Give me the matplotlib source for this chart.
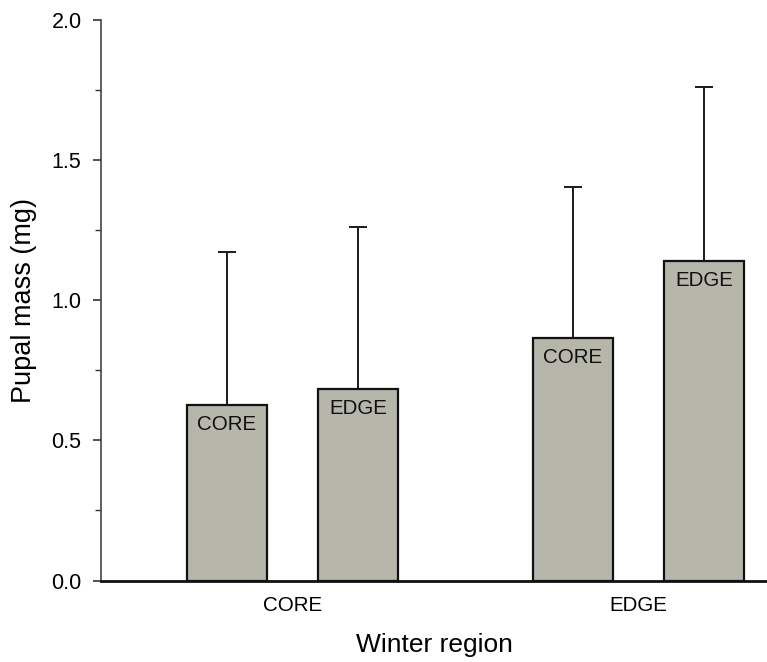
import numpy as np
import matplotlib
matplotlib.use("Agg")
import matplotlib.pyplot as plt
from matplotlib.ticker import MultipleLocator

plt.rcParams['font.family'] = ['Liberation Sans', 'DejaVu Sans']

# Pupal mass by winter region (groups) and origin (bars within each group)
regions = ["CORE", "EDGE"]
origins = ["CORE", "EDGE"]
mean_mass = [[0.627, 0.681],   # winter region CORE
             [0.863, 1.138]]   # winter region EDGE
err_up = [[0.543, 0.578],
          [0.540, 0.622]]

bar_color = '#b6b6aa'
offset = 0.19
width = 0.23

fig = plt.figure(figsize=(7.67, 6.62), dpi=100)
ax = fig.add_axes([0.1317, 0.1231, 0.8683, 0.8474])

x = np.arange(len(regions))
for j, origin in enumerate(origins):
    xs = x + (j - 0.5) * 2 * offset
    vals = [mean_mass[i][j] for i in range(len(regions))]
    errs = [err_up[i][j] for i in range(len(regions))]
    ax.bar(xs, vals, width=width, color=bar_color, edgecolor='#111111',
           linewidth=1.6, zorder=2)
    ax.errorbar(xs, vals, yerr=[np.zeros(len(vals)), errs], fmt='none',
                ecolor='#1a1a1a', elinewidth=1.4, capsize=6.5, capthick=1.4,
                zorder=1)
    for xi, v in zip(xs, vals):
        ax.annotate(origin, xy=(xi, v), xytext=(0, -14), textcoords='offset points',
                    ha='center', va='center', fontsize=14.8, color='#111111', zorder=3)

ax.set_xlim(-0.5535, 1.3714)
ax.set_ylim(0, 2.0)
ax.set_xticks(x)
ax.set_xticklabels(regions, fontsize=14.8)
ax.tick_params(axis='x', length=0, pad=11)
ax.yaxis.set_major_locator(MultipleLocator(0.5))
ax.yaxis.set_minor_locator(MultipleLocator(0.25))
ax.set_yticks(np.arange(0, 2.01, 0.5))
ax.set_yticklabels(["%.1f" % t for t in np.arange(0, 2.01, 0.5)], fontsize=15.5)
ax.tick_params(axis='y', which='major', length=6, width=1.2, pad=8, color='#333333')
ax.tick_params(axis='y', which='minor', length=4, width=1.0, color='#333333')

ax.spines['top'].set_visible(False)
ax.spines['right'].set_visible(False)
ax.spines['left'].set_color('#444444')
ax.spines['left'].set_linewidth(1.2)
ax.spines['bottom'].set_color('#111111')
ax.spines['bottom'].set_linewidth(2.0)

ax.set_xlabel("Winter region", fontsize=19, labelpad=13)
ax.set_ylabel("Pupal mass (mg)", fontsize=19.5, labelpad=10)

fig.savefig("out.png", dpi=100)
